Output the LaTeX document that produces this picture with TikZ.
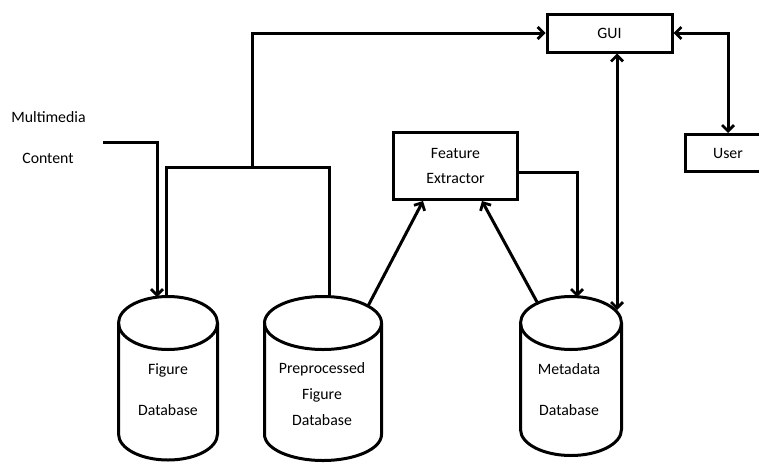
\documentclass[tikz,border=0pt]{standalone}
\usepackage{fontspec}
\setmainfont{Carlito}
\usetikzlibrary{arrows.meta}
\newcommand\dbcylinder[5]{% name, cx, rx, top line, bottom line
  \node[minimum width=2*#3pt, minimum height=#5pt-#4pt, inner sep=0pt] (#1) at (#2,{(#4+#5)/2}) {};
  \draw[dbline] (#2-#3,#4+26.5) -- (#2-#3,#5-26)
     arc[start angle=180,end angle=360,x radius=#3pt,y radius=26pt]
     -- (#2+#3,#4+26.5);
  \draw[dbline] (#2,#4+26.5) ellipse[x radius=#3pt,y radius=26.5pt];
}
\begin{document}
\begin{tikzpicture}[x=1pt,y=-1pt,
  line width=3pt,
  dbline/.style={line width=3pt},
  txt/.style={inner sep=0pt, font=\fontsize{15.8}{19}\selectfont},
  box/.style={draw, line width=3pt, inner sep=0pt, align=center,
              font=\fontsize{15.8}{25}\selectfont},
  arr/.style={line width=3pt, -{Straight Barb[length=6pt,width=12pt,line width=2.8pt]}},
  darr/.style={line width=3pt, {Straight Barb[length=6pt,width=12pt,line width=2.8pt]}-{Straight Barb[length=6pt,width=12pt,line width=2.8pt]}}
]
\useasboundingbox (0,0) rectangle (759,463);
\clip (0,0) rectangle (759,463);

% boxes
\node[box, minimum width=125pt, minimum height=38pt] (gui) at (609.5,33) {GUI};
\node[box, minimum width=86pt, minimum height=37pt] (user) at (728,153) {User};
\node[box, minimum width=124pt, minimum height=67pt] (fe) at (455.5,166) {Feature\\Extractor};

% databases
\dbcylinder{figdb}{168}{49.5}{296.5}{460}
\dbcylinder{predb}{323}{58.5}{296.5}{460.5}
\dbcylinder{metadb}{571}{50.5}{296.5}{455.5}

% texts
\node[txt] (mm1) at (48.5,117) {Multimedia};
\node[txt] (mm2) at (48,158) {Content};
\node[txt] (fig1) at (168,370) {Figure};
\node[txt] (fig2) at (168,410) {Database};
\node[txt] (pre1) at (322,369) {Preprocessed};
\node[txt] (pre2) at (322,395) {Figure};
\node[txt] (pre3) at (322,420) {Database};
\node[txt] (meta1) at (569,369) {Metadata};
\node[txt] (meta2) at (569,410) {Database};

% connector points
\coordinate (mmin) at (103,142);
\coordinate (figin) at (157,297);
\coordinate (figout) at (166,298);
\coordinate (preout) at (329,298);
\coordinate (j1) at (252,167);
\coordinate (preup) at (368,306);
\coordinate (metaup) at (537,302);
\coordinate (metain) at (577,297);
\coordinate (metagui) at (617,310);

% connectors
\draw[arr] (mmin) -| (figin);
\draw[line width=3pt] (figout) |- (j1) -| (preout);
\draw[arr] (j1) |- (gui.west);
\draw[darr] (gui.east) -| (user.north);
\draw[darr] (gui.south -| metagui) -- (metagui);
\draw[arr] ([yshift=-6pt]fe.east) -| (metain);
\draw[arr] (preup) -- ([xshift=-32.5pt]fe.south);
\draw[arr] (metaup) -- ([xshift=26.5pt]fe.south);
\end{tikzpicture}
\end{document}
